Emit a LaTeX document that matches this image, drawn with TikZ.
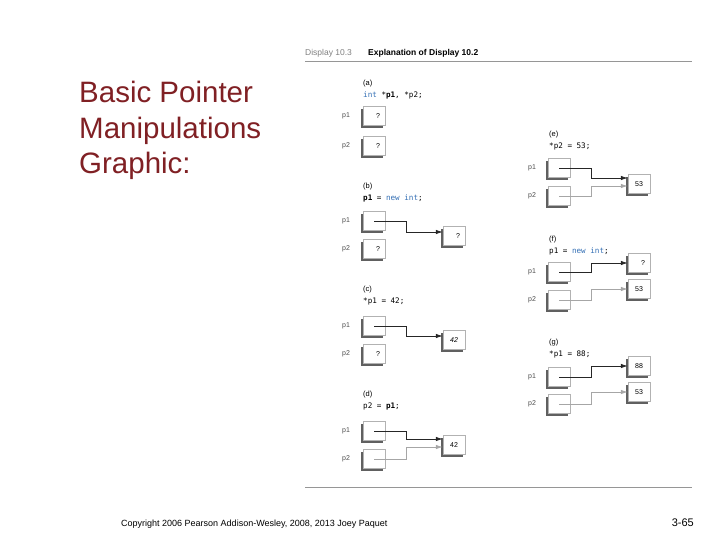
\documentclass[tikz,border=0pt]{standalone}
\usepackage{fontspec}
\setmainfont{Liberation Sans}
\setmonofont{DejaVu Sans Mono}
\usetikzlibrary{shadows,arrows.meta}
\definecolor{titlered}{RGB}{128,32,36}
\definecolor{codeblue}{RGB}{50,110,180}
\definecolor{rulegray}{RGB}{150,150,150}
\tikzset{
  membox/.style={draw=gray!60, fill=white, minimum width=22pt, minimum height=19pt,
    inner sep=0pt, font=\fontsize{7}{8}\selectfont,
    drop shadow={shadow xshift=-2.5pt, shadow yshift=-2.5pt, fill=gray!75!black, opacity=1}},
  varname/.style={font=\fontsize{7}{8}\selectfont, text=gray!60!black},
  caption/.style={anchor=west, inner sep=0pt, font=\fontsize{7.5}{8}\selectfont},
  code/.style={anchor=west, inner sep=0pt, font=\ttfamily\fontsize{7.6}{8}\selectfont},
  ptr/.style={-{Latex[length=7pt,width=4.5pt]}, thick, draw=black!85},
  ptrlight/.style={-{Latex[length=7pt,width=4.5pt]}, thick, draw=gray!70}
}
\newcommand{\kw}[1]{\textcolor{codeblue}{#1}}
\begin{document}
\begin{tikzpicture}[x=1pt,y=-1pt]
\useasboundingbox (0,0) rectangle (720,540);

\node[anchor=north west, align=left, inner sep=0pt, text=titlered,
  font=\fontsize{29.5}{35.5}\selectfont] (title) at (79,81)
  {Basic Pointer\\Manipulations\\Graphic:};

\node[anchor=west, inner sep=0pt, font=\fontsize{8.5}{9}\selectfont, text=gray] (disp) at (305,53) {Display 10.3};
\node[anchor=west, inner sep=0pt, font=\bfseries\fontsize{8.5}{9}\selectfont] (expl) at (368,53) {Explanation of Display 10.2};
\draw[rulegray, line width=1pt] (305,62) -- (692,62);
\draw[rulegray, line width=1pt] (305,487) -- (692,487);

\node[caption] (capa) at (363,84) {(a)};
\node[code] (codea) at (363,95) {\kw{int} *\textbf{p1}, *p2;};
\node[varname] (na1) at (346,116) {p1};
\node[varname] (na2) at (346,146) {p2};
\node[membox] (a1) at (374,116) {\hspace{8pt}?};
\node[membox] (a2) at (374,146) {\hspace{8pt}?};

\node[caption] (capb) at (363,187) {(b)};
\node[code] (codeb) at (363,198) {\textbf{p1} = \kw{new int};};
\node[varname] (nb1) at (346,221) {p1};
\node[varname] (nb2) at (346,249) {p2};
\node[membox] (b1) at (374,221) {};
\node[membox] (b2) at (374,249) {\hspace{8pt}?};
\node[membox] (bt) at (454,236) {\hspace{8pt}?};
\draw[ptr] (b1.center) -- ++(32,0) |- ([yshift=4pt]bt.west);

\node[caption] (capc) at (363,290) {(c)};
\node[code] (codec) at (363,301) {*p1 = 42;};
\node[varname] (nc1) at (346,326) {p1};
\node[varname] (nc2) at (346,354) {p2};
\node[membox] (c1) at (374,326) {};
\node[membox] (c2) at (374,354) {\hspace{8pt}?};
\node[membox] (ct) at (454,340) {\itshape 42\hspace{4pt}};
\draw[ptr] (c1.center) -- ++(32,0) |- ([yshift=4pt]ct.west);

\node[caption] (capd) at (363,395) {(d)};
\node[code] (coded) at (363,406) {p2 = \textbf{p1};};
\node[varname] (nd1) at (346,431) {p1};
\node[varname] (nd2) at (346,459) {p2};
\node[membox] (d1) at (374,431) {};
\node[membox] (d2) at (374,459) {};
\node[membox] (dt) at (454,445) {42};
\draw[ptr] (d1.center) -- ++(32,0) |- ([yshift=6pt]dt.west);
\draw[ptrlight] (d2.center) -- ++(32,0) |- ([yshift=-2pt]dt.west);

\node[caption] (cape) at (549,135) {(e)};
\node[code] (codee) at (549,146) {*p2 = 53;};
\node[varname] (ne1) at (532,168) {p1};
\node[varname] (ne2) at (532,196) {p2};
\node[membox] (e1) at (559,168) {};
\node[membox] (e2) at (559,196) {};
\node[membox] (et) at (639,184) {53};
\draw[ptr] (e1.center) -- ++(32,0) |- ([yshift=6pt]et.west);
\draw[ptrlight] (e2.center) -- ++(32,0) |- ([yshift=-2pt]et.west);

\node[caption] (capf) at (549,240) {(f)};
\node[code] (codef) at (549,251) {p1 = \kw{new int};};
\node[varname] (nf1) at (532,272) {p1};
\node[varname] (nf2) at (532,300) {p2};
\node[membox] (f1) at (559,272) {};
\node[membox] (f2) at (559,300) {};
\node[membox] (ft1) at (639,263) {\hspace{8pt}?};
\node[membox] (ft2) at (639,289) {53};
\draw[ptr] (f1.center) -- ++(32,0) |- (ft1.west);
\draw[ptrlight] (f2.center) -- ++(32,0) |- (ft2.west);

\node[caption] (capg) at (549,343) {(g)};
\node[code] (codeg) at (549,354) {*p1 = 88;};
\node[varname] (ng1) at (532,377) {p1};
\node[varname] (ng2) at (532,404) {p2};
\node[membox] (g1) at (559,377) {};
\node[membox] (g2) at (559,404) {};
\node[membox] (gt1) at (639,366) {88};
\node[membox] (gt2) at (639,392) {53};
\draw[ptr] (g1.center) -- ++(32,0) |- (gt1.west);
\draw[ptrlight] (g2.center) -- ++(32,0) |- (gt2.west);

\node[anchor=west, inner sep=0pt, font=\fontsize{9}{10}\selectfont] (copy) at (121,524)
  {Copyright 2006 Pearson Addison-Wesley, 2008, 2013 Joey Paquet};
\node[anchor=east, inner sep=0pt, font=\fontsize{11}{12}\selectfont] (page) at (694,523) {3-65};
\end{tikzpicture}
\end{document}
